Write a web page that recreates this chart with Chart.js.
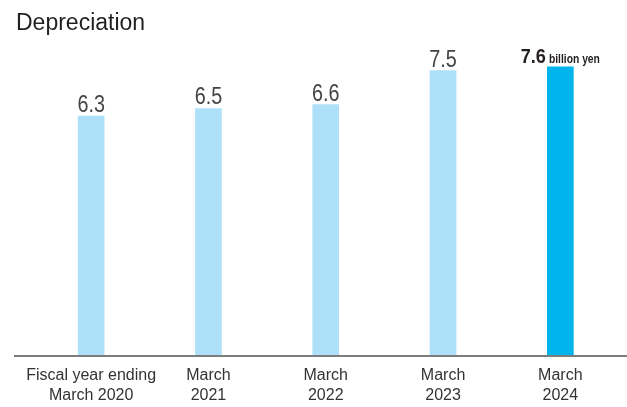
<!DOCTYPE html>
<html>
<head>
<meta charset="utf-8">
<script src="https://cdn.jsdelivr.net/npm/chart.js@4"></script>
<style>
    html, body { margin: 0; padding: 0; background: #fff; }
    #wrap { width: 627px; height: 407px; position: relative; }
</style>
</head>
<body>
<div id="wrap"><canvas id="chart"></canvas></div>
<script>
    // Fiscal years (two-line tick labels)
    const categories = [
        ['Fiscal year ending', 'March 2020'],
        ['March', '2021'],
        ['March', '2022'],
        ['March', '2023'],
        ['March', '2024']
    ];
    // Depreciation, billion yen
    const depreciation = [6.3, 6.5, 6.6, 7.5, 7.6];
    const unitLabel = 'billion yen';

    const lightBlue = '#aee0f9';
    const strongBlue = '#00b4ec';
    const fontFamily = '"Liberation Sans", Arial, Helvetica, sans-serif';

    // Value labels over the bars; the latest year gets bold text and the unit
    const valueLabels = {
        id: 'valueLabels',
        afterDatasetsDraw(chart) {
            const ctx = chart.ctx;
            const bars = chart.getDatasetMeta(0).data;
            const last = bars.length - 1;
            ctx.save();
            ctx.textBaseline = 'alphabetic';
            bars.forEach((bar, i) => {
                const text = depreciation[i].toFixed(1);
                const y = bar.y - 4;
                if (i < last) {
                    ctx.save();
                    ctx.translate(bar.x, y);
                    ctx.scale(0.86, 1);
                    ctx.font = '23px ' + fontFamily;
                    ctx.fillStyle = '#444';
                    ctx.textAlign = 'center';
                    ctx.fillText(text, 0, 0);
                    ctx.restore();
                } else {
                    const sx = 0.86;
                    ctx.font = 'bold 21px ' + fontFamily;
                    const w1 = ctx.measureText(text).width * sx;
                    ctx.font = 'bold 12px ' + fontFamily;
                    const w2 = ctx.measureText(unitLabel).width * sx;
                    const gap = 3;
                    let x = bar.x - (w1 + gap + w2) / 2;
                    ctx.fillStyle = '#231f20';
                    ctx.textAlign = 'left';
                    ctx.save();
                    ctx.translate(x, y);
                    ctx.scale(sx, 1);
                    ctx.font = 'bold 21px ' + fontFamily;
                    ctx.fillText(text, 0, 0);
                    ctx.restore();
                    ctx.save();
                    ctx.translate(x + w1 + gap, y);
                    ctx.scale(sx, 1);
                    ctx.font = 'bold 12px ' + fontFamily;
                    ctx.fillText(unitLabel, 0, 0);
                    ctx.restore();
                }
            });
            ctx.restore();
        }
    };

    // Gray baseline running to the right edge
    const baseline = {
        id: 'baseline',
        afterDatasetsDraw(chart) {
            const ctx = chart.ctx;
            const y = chart.scales.y.getPixelForValue(0) + 1;
            ctx.save();
            ctx.strokeStyle = '#7d7d7d';
            ctx.lineWidth = 2;
            ctx.beginPath();
            ctx.moveTo(14, y);
            ctx.lineTo(chart.width, y);
            ctx.stroke();
            ctx.restore();
        }
    };

    new Chart(document.getElementById('chart'), {
        type: 'bar',
        data: {
            labels: categories,
            datasets: [{
                data: depreciation,
                backgroundColor: depreciation.map((v, i) => i === depreciation.length - 1 ? strongBlue : lightBlue),
                borderWidth: 0,
                barThickness: 26
            }]
        },
        options: {
            responsive: true,
            maintainAspectRatio: false,
            animation: false,
            layout: {
                padding: { left: 16, right: 8, top: 10, bottom: 0 }
            },
            plugins: {
                legend: { display: false },
                tooltip: { enabled: false },
                title: {
                    display: true,
                    text: 'Depreciation',
                    align: 'start',
                    color: '#231f20',
                    font: { family: fontFamily, size: 23, weight: 'normal' },
                    padding: { top: 0, bottom: 14 }
                }
            },
            scales: {
                x: {
                    grid: { display: false, drawTicks: false },
                    border: { display: false },
                    ticks: {
                        color: '#333',
                        font: { family: fontFamily, size: 16, lineHeight: 1.25 },
                        padding: 11,
                        maxRotation: 0,
                        autoSkip: false
                    },
                    afterFit(scale) { scale.height = 52; }
                },
                y: {
                    min: 0,
                    max: 8,
                    grid: { display: false },
                    border: { display: false },
                    ticks: { display: false },
                    afterFit(scale) { scale.width = 16.5; }
                }
            }
        },
        plugins: [valueLabels, baseline]
    });
</script>
</body>
</html>
